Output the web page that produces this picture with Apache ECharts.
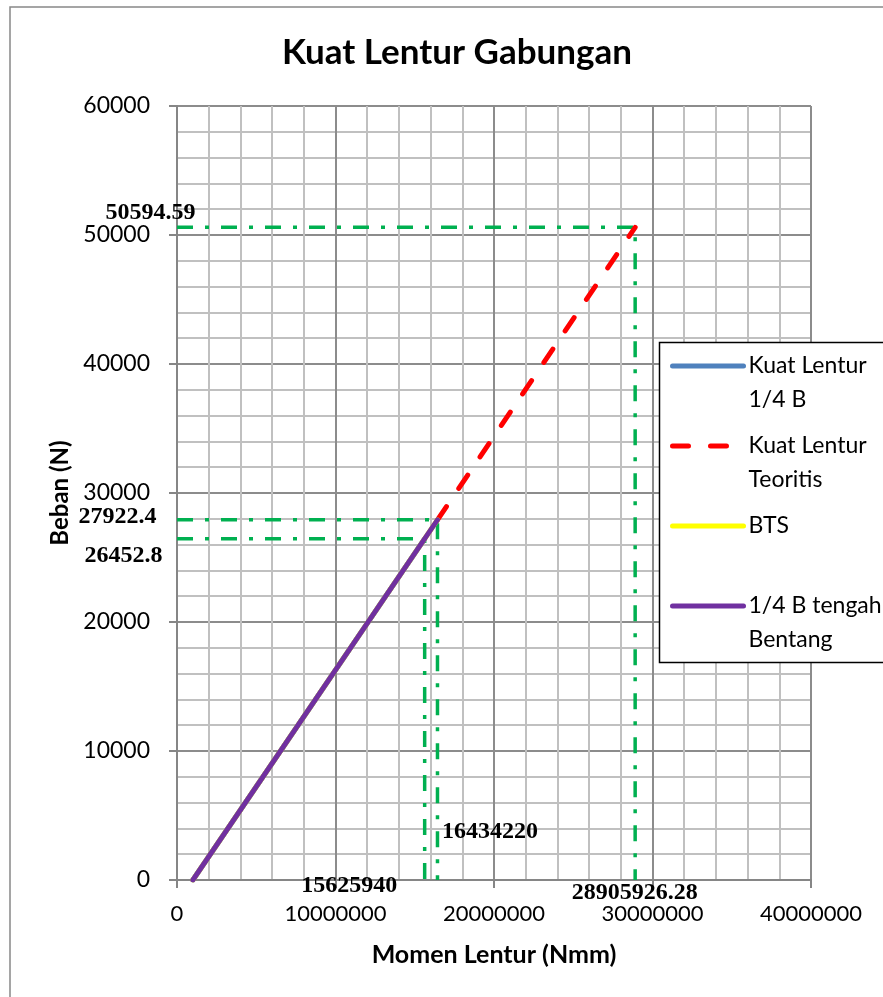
<!DOCTYPE html>
<html>
<head>
<meta charset="utf-8">
<title>Kuat Lentur Gabungan</title>
<script src="https://cdn.jsdelivr.net/npm/echarts@6/dist/echarts.min.js"></script>
<style>
  html, body { margin: 0; padding: 0; background: #ffffff; }
  #chart { width: 883px; height: 997px; }
</style>
</head>
<body>
<div id="chart"></div>
<script>
// ---- data ----
const seriesNames = ['Kuat Lentur 1/4 B', 'Kuat Lentur Teoritis', 'BTS', '1/4 B tengah Bentang'];
const legendText = ['Kuat Lentur\n1/4 B', 'Kuat Lentur\nTeoritis', 'BTS', '1/4 B tengah\nBentang'];

const quarterX = [1000000, 15625940];
const quarterY = [0, 26452.8];

const theoryX = [16434220, 28905926.28];
const theoryY = [27922.4, 50594.59];

const btsX = [1000000, 16434220];
const btsY = [0, 27922.4];

const midSpanX = [1000000, 16434220];
const midSpanY = [0, 27922.4];

// reference values marked with green guide lines
const peakMoment = 28905926.28;
const peakLoad = 50594.59;
const midMoment = 16434220;
const midLoad = 27922.4;
const quarterMoment = 15625940;
const quarterLoad = 26452.8;

const xTicks = { min: 0, max: 40000000, interval: 10000000 };
const yTicks = { min: 0, max: 60000, interval: 10000 };

// ---- helpers ----
const pairs = (xs, ys) => xs.map((x, i) => [x, ys[i]]);
const SANS = 'Lato';
const SERIF = 'Liberation Serif';
const GREEN = '#00b050';

function guide(name, xv, yv) {
  return {
    name: name,
    type: 'line',
    symbol: 'none',
    silent: true,
    z: 3,
    lineStyle: { color: GREEN, width: 3.5, type: [16, 12, 4, 12], cap: 'butt' },
    data: [[0, yv], [xv, yv], [xv, 0]]
  };
}

function valueLabel(point, text, align, dx, dy) {
  return {
    value: point,
    label: {
      show: true,
      position: [0, 0],
      formatter: text,
      align: align,
      verticalAlign: 'middle',
      offset: [dx, dy],
      fontFamily: SERIF,
      fontWeight: 'bold',
      fontSize: 24,
      color: '#000000',
      opacity: 1,
      textBorderWidth: 0
    }
  };
}

const plainNumber = (v) => String(v);

const chart = echarts.init(document.getElementById('chart'), null, { renderer: 'canvas' });

const option = {
  backgroundColor: '#ffffff',
  animation: false,
  title: {
    text: 'Kuat Lentur Gabungan',
    left: 452,
    top: 30,
    textAlign: 'center',
    textStyle: { fontFamily: SANS, fontWeight: 'bold', fontSize: 35, color: '#000000' }
  },
  graphic: [
    {
      type: 'rect', z: -1, silent: true,
      shape: { x: 10, y: 7, width: 900, height: 1010 },
      style: { fill: 'none', stroke: '#888888', lineWidth: 1.5 }
    },
    {
      type: 'rect', z: 3, silent: true,
      shape: { x: 659.5, y: 342.5, width: 300, height: 320 },
      style: { fill: '#ffffff', stroke: '#000000', lineWidth: 1.5 }
    }
  ],
  legend: {
    orient: 'vertical',
    left: 670,
    top: 315,
    padding: 0,
    itemWidth: 71,
    itemHeight: 10,
    itemGap: -22,
    z: 5,
    data: seriesNames,
    itemStyle: { opacity: 0 },
    lineStyle: { width: 5, cap: 'round' },
    formatter: function (name) {
      const t = legendText[seriesNames.indexOf(name)];
      return t.indexOf('\n') >= 0 ? '\n' + t : '\n' + t + '\n';
    },
    textStyle: { fontFamily: SANS, fontSize: 23, lineHeight: 34, color: '#000000' }
  },
  grid: { left: 177, right: 72, top: 106, bottom: 117, containLabel: false },
  xAxis: {
    type: 'value',
    min: xTicks.min, max: xTicks.max, interval: xTicks.interval,
    name: 'Momen Lentur (Nmm)',
    nameLocation: 'middle',
    nameGap: 62,
    nameTextStyle: { fontFamily: SANS, fontWeight: 'bold', fontSize: 25, color: '#000000' },
    axisLine: { show: true, lineStyle: { color: '#868686', width: 2 } },
    axisTick: { show: true, length: 8, lineStyle: { color: '#868686', width: 2 } },
    axisLabel: { margin: 23, fontFamily: SANS, fontSize: 22, color: '#000000', formatter: plainNumber },
    splitLine: { show: true, lineStyle: { color: '#8c8c8c', width: 2 } },
    minorTick: { show: false, splitNumber: 5 },
    minorSplitLine: { show: true, lineStyle: { color: '#c0c0c0', width: 2 } }
  },
  yAxis: {
    type: 'value',
    min: yTicks.min, max: yTicks.max, interval: yTicks.interval,
    name: 'Beban (N)',
    nameLocation: 'middle',
    nameGap: 103,
    nameTextStyle: { fontFamily: SANS, fontWeight: 'bold', fontSize: 24, color: '#000000' },
    axisLine: { show: true, lineStyle: { color: '#868686', width: 2 } },
    axisTick: { show: true, length: 8, lineStyle: { color: '#868686', width: 2 } },
    axisLabel: { margin: 27, fontFamily: SANS, fontSize: 23, color: '#000000', formatter: plainNumber },
    splitLine: { show: true, lineStyle: { color: '#8c8c8c', width: 2 } },
    minorTick: { show: false, splitNumber: 5 },
    minorSplitLine: { show: true, lineStyle: { color: '#c0c0c0', width: 2 } }
  },
  series: [
    guide('guide-peak', peakMoment, peakLoad),
    guide('guide-mid', midMoment, midLoad),
    guide('guide-quarter', quarterMoment, quarterLoad),
    {
      name: seriesNames[0], type: 'line', symbol: 'none', z: 4,
      color: '#4f81bd',
      lineStyle: { color: '#4f81bd', width: 5, cap: 'round' },
      data: pairs(quarterX, quarterY)
    },
    {
      name: seriesNames[1], type: 'line', symbol: 'none', z: 4,
      color: '#ff0000',
      lineStyle: { color: '#ff0000', width: 5, type: [16, 22], cap: 'round' },
      data: pairs(theoryX, theoryY)
    },
    {
      name: seriesNames[2], type: 'line', symbol: 'none', z: 4,
      color: '#ffff00',
      lineStyle: { color: '#ffff00', width: 5, cap: 'round' },
      data: pairs(btsX, btsY)
    },
    {
      name: seriesNames[3], type: 'line', symbol: 'none', z: 4,
      color: '#7030a0',
      lineStyle: { color: '#7030a0', width: 5, cap: 'round' },
      data: pairs(midSpanX, midSpanY)
    },
    {
      name: 'guide-values',
      type: 'scatter',
      symbolSize: 1,
      silent: true,
      z: 6,
      itemStyle: { color: 'rgba(0,0,0,0)' },
      data: [
        valueLabel([0, peakLoad], String(peakLoad), 'center', -26, -14),
        valueLabel([0, midLoad], String(midLoad), 'right', -20, -3),
        valueLabel([0, quarterLoad], String(quarterLoad), 'center', -53, 18),
        valueLabel([midMoment, 0], String(midMoment), 'left', 5, -48),
        valueLabel([quarterMoment, 0], String(quarterMoment), 'right', -27, 6),
        valueLabel([peakMoment, 0], String(peakMoment), 'center', 0, 13)
      ]
    }
  ]
};

chart.setOption(option);
</script>
</body>
</html>
